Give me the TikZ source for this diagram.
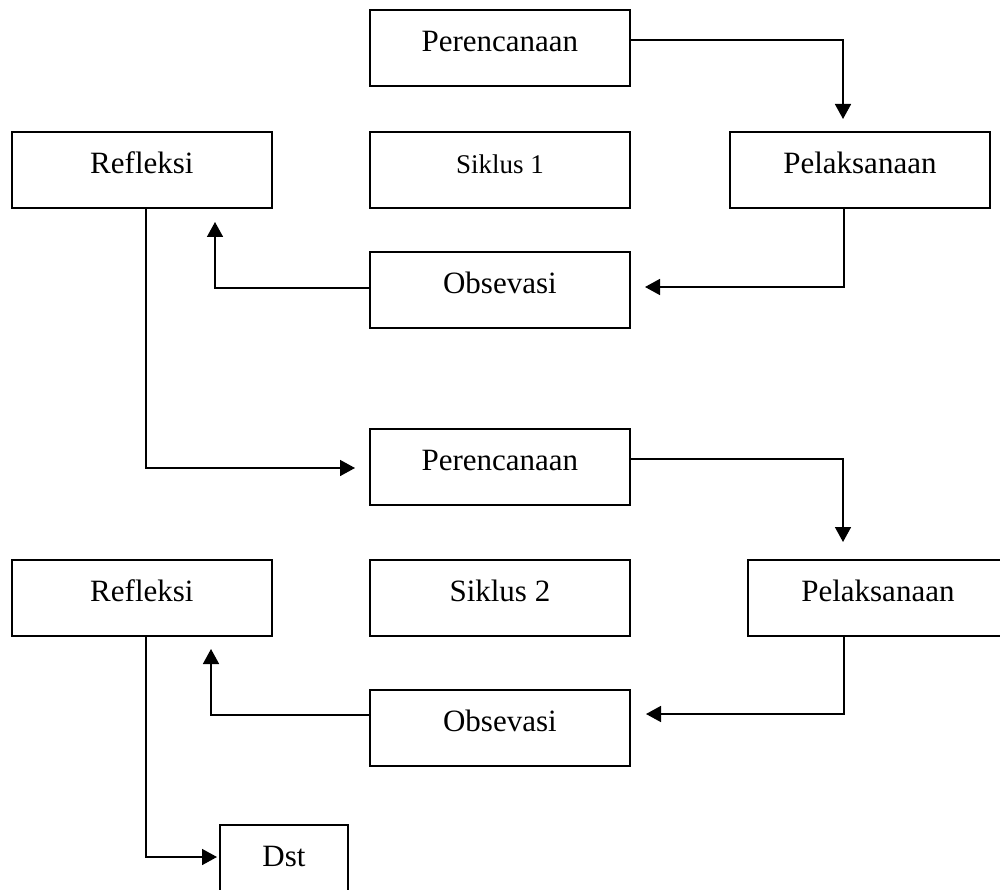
\documentclass[tikz,border=0pt]{standalone}
\usepackage{fontspec}
\setmainfont{Liberation Serif}
\usetikzlibrary{arrows.meta}
\begin{document}
\begin{tikzpicture}[x=1pt,y=-1pt,
  box/.style={draw, line width=1.8pt, anchor=north west, inner sep=0pt,
    minimum width=260pt, minimum height=76pt, text height=42pt, text depth=34pt,
    font=\fontsize{31}{31}\selectfont},
  conn/.style={line width=1.6pt},
  arr/.style={conn, -{Triangle[length=15pt,width=16pt]}}]
\useasboundingbox (0,0) rectangle (1000,890);
% cycle 1
\node[box] (per1) at (369,9) {Perencanaan};
\node[box] (ref1) at (11,131) {Refleksi};
\node[box, font=\fontsize{27}{27}\selectfont] (sik1) at (369,131) {Siklus 1};
\node[box] (pel1) at (729,131) {Pelaksanaan};
\node[box] (obs1) at (369,251) {Obsevasi};
% cycle 2
\node[box] (per2) at (369,428) {Perencanaan};
\node[box] (ref2) at (11,559) {Refleksi};
\node[box] (sik2) at (369,559) {Siklus 2};
\node[box] (pel2) at (747,559) {Pelaksanaan};
\node[box] (obs2) at (369,689) {Obsevasi};
\node[box, minimum width=128pt] (dst) at (219,824) {Dst};
% arrow tips
\coordinate (a1) at (843,119);
\coordinate (a2) at (645,287);
\coordinate (a3) at (215,222);
\coordinate (a4) at (355,468);
\coordinate (a5) at (843,542);
\coordinate (a6) at (646,714);
\coordinate (a7) at (211,649);
\coordinate (a8) at (217,857);
% connectors
\draw[arr] ([yshift=8pt]per1.east) -| (a1);
\draw[arr] ([xshift=-16pt]pel1.south) |- (a2);
\draw[arr] ([yshift=2pt]obs1.west) -| (a3);
\draw[arr] ([xshift=4pt]ref1.south) |- (a4);
\draw[arr] ([yshift=8pt]per2.east) -| (a5);
\draw[arr] ([xshift=-34pt]pel2.south) |- (a6);
\draw[arr] ([yshift=13pt]obs2.west) -| (a7);
\draw[arr] ([xshift=4pt]ref2.south) |- (a8);
\end{tikzpicture}
\end{document}
